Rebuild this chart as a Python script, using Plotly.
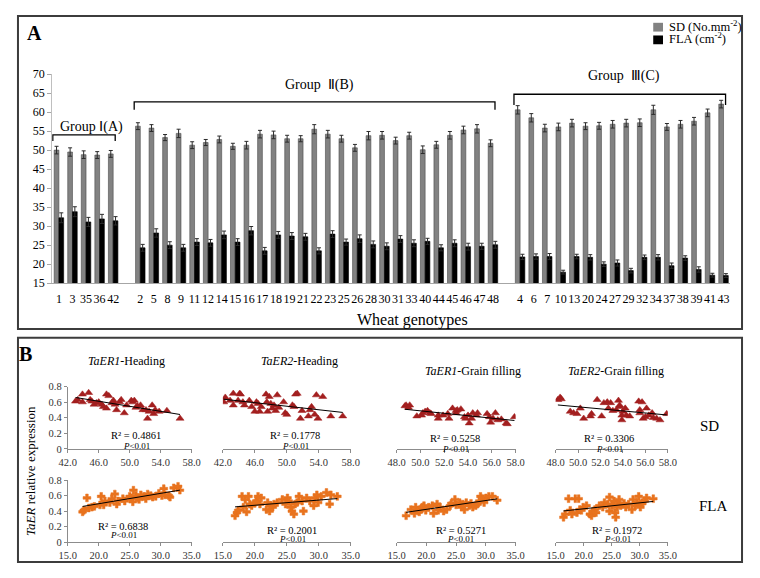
import numpy as np
import plotly.graph_objects as go

SERIF = "'Liberation Serif', 'Times New Roman', serif"
# page body keeps its default 8px margin, so the figure is 16px smaller than the window
PAGE_W, PAGE_H, PAD = 760, 578, 8
W, H = PAGE_W - 2 * PAD, PAGE_H - 2 * PAD

# ---------------- Panel A data ----------------
group1_ids = ["1", "3", "35", "36", "42"]
group2_ids = ["2", "5", "8", "9", "11", "12", "14", "15", "16", "17", "18", "19", "21", "22",
              "23", "25", "26", "28", "30", "31", "33", "40", "44", "45", "46", "47", "48"]
group3_ids = ["4", "6", "7", "10", "13", "20", "24", "27", "29", "32", "34", "37", "38",
              "39", "41", "43"]

sd_g1 = [50.0, 49.5, 48.8, 48.7, 49.0]
sd_g2 = [56.3, 55.8, 53.3, 54.4, 51.3, 52.0, 52.8, 51.0, 51.3, 54.2, 54.0, 53.0, 53.0, 55.5,
         54.2, 53.0, 50.6, 53.8, 53.9, 52.5, 53.8, 50.1, 51.4, 53.9, 55.3, 55.6, 51.8]
sd_g3 = [60.6, 58.5, 55.8, 56.1, 57.1, 56.3, 56.4, 56.8, 57.1, 57.2, 60.6, 56.1, 56.8,
         57.6, 59.8, 62.1]

fla_g1 = [32.2, 33.8, 31.1, 31.9, 31.4]
fla_g2 = [24.3, 28.2, 25.0, 24.3, 25.8, 25.6, 27.7, 25.8, 28.8, 23.5, 27.7, 27.4, 27.2, 23.5,
          27.9, 25.8, 26.7, 25.2, 24.7, 26.6, 25.5, 26.0, 24.3, 25.5, 24.6, 24.7, 25.1]
fla_g3 = [21.9, 22.0, 22.0, 17.9, 22.0, 21.8, 20.0, 20.3, 18.3, 21.8, 21.8, 19.6, 21.6,
          18.6, 17.1, 17.0]

sd_err_g1 = [1.0, 1.1, 1.0, 0.9, 0.9]
sd_err_g2 = [0.9, 0.9, 0.8, 1.1, 0.9, 0.8, 0.9, 0.8, 1.0, 1.0, 1.0, 0.9, 0.8, 1.2, 1.0, 0.9,
             0.9, 1.1, 1.0, 0.9, 0.9, 1.0, 0.9, 1.0, 1.0, 1.1, 0.9]
sd_err_g3 = [1.1, 1.1, 1.0, 1.0, 1.0, 0.9, 0.9, 1.0, 1.0, 1.0, 1.2, 0.9, 1.0, 1.0, 1.0, 1.0]
fla_err_g1 = [1.3, 1.3, 1.2, 1.2, 1.1]
fla_err_g2 = [0.9, 1.1, 0.9, 0.9, 0.9, 0.9, 1.0, 0.9, 1.1, 0.9, 0.9, 0.9, 0.9, 0.8, 0.9, 0.8,
              1.0, 0.9, 0.9, 0.9, 0.9, 0.8, 0.8, 0.9, 0.9, 0.8, 0.9]
fla_err_g3 = [0.7, 0.7, 0.8, 0.5, 0.6, 0.7, 0.6, 0.8, 0.6, 0.6, 0.7, 0.7, 0.6, 0.7, 0.5, 0.5]

group_names = ["Group Ⅰ(A)", "Group  Ⅱ(B)", "Group  Ⅲ(C)"]

# ---------------- Panel B data ----------------
# SD vs expression (heading / grain filling)
er1_head_sd = [43.0, 43.3, 43.9, 43.9, 44.7, 44.9, 45.1, 45.4, 45.7, 46.0, 46.4, 46.6, 47.0, 47.3,
               47.0, 47.7, 47.9, 48.1, 48.3, 48.7, 48.9, 49.3, 49.6, 50.2, 50.4, 50.6, 50.8, 51.0,
               51.4, 51.7, 52.1, 52.3, 52.5, 52.9, 53.1, 53.3, 53.8, 54.8, 56.5]
er1_head_y = [0.61, 0.63, 0.70, 0.60, 0.72, 0.63, 0.61, 0.57, 0.59, 0.60, 0.57, 0.54, 0.70, 0.68,
              0.52, 0.59, 0.62, 0.57, 0.50, 0.60, 0.63, 0.46, 0.56, 0.62, 0.60, 0.62, 0.53, 0.55,
              0.56, 0.50, 0.50, 0.39, 0.48, 0.56, 0.45, 0.50, 0.48, 0.49, 0.39]

er2_head_sd = [42.1, 42.3, 42.9, 43.3, 43.3, 43.9, 44.1, 44.2, 44.5, 44.7, 45.3, 45.6, 46.0, 46.2,
               46.4, 46.6, 46.8, 47.4, 47.5, 47.6, 47.8, 48.0, 48.2, 48.4, 48.6, 48.8, 49.0, 49.6,
               49.8, 50.0, 50.7, 50.9, 51.1, 51.3, 51.7, 51.9, 52.7, 52.9, 53.1, 53.5, 53.7, 53.9,
               54.5, 55.5, 57.0]
er2_head_y = [0.60, 0.66, 0.62, 0.71, 0.56, 0.62, 0.71, 0.70, 0.60, 0.56, 0.62, 0.54, 0.48, 0.60,
              0.58, 0.48, 0.54, 0.70, 0.60, 0.48, 0.67, 0.58, 0.52, 0.56, 0.49, 0.69, 0.53, 0.60,
              0.46, 0.44, 0.56, 0.54, 0.70, 0.71, 0.39, 0.49, 0.42, 0.50, 0.54, 0.44, 0.69, 0.39,
              0.67, 0.42, 0.42]

er1_grain_sd = [48.7, 48.8, 49.1, 49.0, 49.7, 50.1, 50.2, 50.4, 50.6, 50.8, 50.9, 51.5, 51.5, 51.9,
                52.3, 52.4, 52.7, 53.0, 53.0, 53.1, 53.4, 53.7, 53.8, 54.0, 54.1, 54.3, 54.4, 54.7,
                54.8, 55.6, 55.8, 55.9, 56.1, 56.3, 56.5, 56.8, 57.2, 57.3, 57.9]
er1_grain_y = [0.55, 0.56, 0.56, 0.53, 0.42, 0.43, 0.46, 0.48, 0.49, 0.46, 0.45, 0.39, 0.43, 0.43,
               0.45, 0.39, 0.52, 0.49, 0.46, 0.50, 0.51, 0.41, 0.39, 0.43, 0.33, 0.39, 0.46, 0.43,
               0.46, 0.45, 0.41, 0.34, 0.39, 0.46, 0.37, 0.38, 0.33, 0.32, 0.41]

er2_grain_sd = [48.2, 48.4, 48.5, 49.3, 49.6, 49.9, 50.2, 50.5, 51.1, 51.2, 51.7, 52.1, 52.3, 52.6,
                52.7, 52.9, 53.1, 53.4, 53.6, 53.7, 53.7, 53.9, 53.9, 54.0, 54.2, 54.3, 54.6, 55.4,
                55.5, 55.5, 55.7, 55.8, 56.0, 56.1, 56.3, 56.6, 56.7, 57.0, 57.3, 57.9]
er2_grain_y = [0.63, 0.66, 0.64, 0.48, 0.46, 0.45, 0.52, 0.39, 0.42, 0.45, 0.63, 0.42, 0.59, 0.60,
               0.52, 0.59, 0.49, 0.50, 0.62, 0.56, 0.54, 0.37, 0.43, 0.48, 0.52, 0.43, 0.42, 0.61,
               0.50, 0.46, 0.60, 0.39, 0.41, 0.52, 0.43, 0.46, 0.40, 0.39, 0.37, 0.45]

# FLA vs expression
er1_head_fla = [17.4, 17.6, 18.1, 18.4, 18.9, 19.3, 20.4, 20.2, 20.8, 21.0, 21.8, 22.1, 22.6, 22.9,
                23.1, 23.9, 24.2, 25.0, 25.2, 25.5, 25.6, 26.0, 26.3, 26.5, 26.8, 27.3, 27.6, 27.9,
                28.4, 28.7, 29.2, 29.7, 30.2, 30.5, 30.7, 31.3, 31.5, 32.1, 32.8, 33.1]
er1_head_fla_y = [0.39, 0.41, 0.57, 0.44, 0.45, 0.46, 0.59, 0.48, 0.48, 0.53, 0.51, 0.56, 0.62,
                  0.49, 0.53, 0.56, 0.53, 0.59, 0.57, 0.52, 0.67, 0.60, 0.57, 0.55, 0.61, 0.59,
                  0.56, 0.62, 0.60, 0.58, 0.59, 0.63, 0.60, 0.69, 0.61, 0.60, 0.58, 0.70, 0.72,
                  0.67]

er2_head_fla = [16.9, 17.2, 17.4, 18.0, 18.2, 18.5, 18.7, 19.0, 19.2, 19.5, 20.0, 20.2, 20.5, 20.8,
                21.0, 21.8, 22.0, 22.3, 22.5, 22.8, 23.0, 23.5, 24.3, 24.8, 25.1, 25.3, 25.6, 25.8,
                26.1, 26.3, 26.6, 26.9, 27.4, 27.6, 28.1, 28.6, 29.2, 29.4, 29.7, 29.9, 30.4, 31.2,
                31.7, 31.9, 32.9]
er2_head_fla_y = [0.34, 0.38, 0.41, 0.59, 0.45, 0.55, 0.39, 0.59, 0.49, 0.47, 0.50, 0.53, 0.59,
                  0.49, 0.57, 0.42, 0.51, 0.40, 0.47, 0.45, 0.49, 0.51, 0.55, 0.49, 0.57, 0.53,
                  0.45, 0.40, 0.36, 0.49, 0.51, 0.59, 0.53, 0.40, 0.57, 0.53, 0.47, 0.57, 0.61,
                  0.51, 0.59, 0.64, 0.49, 0.61, 0.59]

er1_grain_fla = [16.6, 17.4, 18.0, 18.2, 18.8, 19.0, 19.3, 19.6, 19.9, 20.4, 21.0, 21.2, 21.8, 22.0,
                 22.3, 22.9, 23.4, 24.0, 24.2, 24.8, 25.0, 25.6, 25.9, 26.1, 26.4, 26.7, 27.2, 27.5,
                 27.8, 28.3, 28.6, 28.9, 29.1, 29.4, 29.7, 30.0, 30.5, 31.1, 31.9]
er1_grain_fla_y = [0.34, 0.42, 0.37, 0.45, 0.39, 0.42, 0.45, 0.47, 0.41, 0.45, 0.47, 0.37, 0.49,
                   0.41, 0.45, 0.40, 0.42, 0.47, 0.50, 0.55, 0.48, 0.51, 0.45, 0.49, 0.42, 0.51,
                   0.47, 0.50, 0.45, 0.47, 0.49, 0.53, 0.59, 0.56, 0.51, 0.57, 0.59, 0.59, 0.54]

er2_grain_fla = [16.4, 16.7, 17.3, 17.6, 17.9, 18.5, 18.8, 19.1, 19.3, 19.6, 19.9, 20.5, 21.1, 21.4,
                 21.7, 22.0, 22.2, 22.8, 23.4, 23.7, 24.3, 24.6, 24.6, 25.1, 25.4, 25.6, 25.7, 26.0,
                 26.3, 26.3, 26.6, 27.2, 27.5, 28.0, 28.6, 28.8, 29.2, 29.5, 29.8, 30.1, 30.1, 30.4,
                 30.9, 31.2, 32.4]
er2_grain_fla_y = [0.32, 0.36, 0.56, 0.41, 0.36, 0.56, 0.38, 0.56, 0.42, 0.41, 0.45, 0.47, 0.36,
                   0.34, 0.40, 0.42, 0.38, 0.47, 0.45, 0.51, 0.49, 0.58, 0.40, 0.47, 0.53, 0.38,
                   0.32, 0.45, 0.50, 0.55, 0.47, 0.50, 0.45, 0.49, 0.42, 0.55, 0.47, 0.51, 0.59,
                   0.49, 0.45, 0.51, 0.53, 0.57, 0.56]

subplot_titles = ["<i>TaER1</i>-Heading", "<i>TaER2</i>-Heading",
                  "<i>TaER1</i>-Grain filling", "<i>TaER2</i>-Grain filling"]
r2_sd = ["0.4861", "0.1778", "0.5258", "0.3306"]
r2_fla = ["0.6838", "0.2001", "0.5271", "0.1972"]


# window pixel -> paper fraction
def px(x):
    return min(max((x - PAD) / W, 0.0), 1.0)


def py(y):
    return min(max(1 - (y - PAD) / H, 0.0), 1.0)


fig = go.Figure()

# ---------------- Panel A ----------------
ids = group1_ids + group2_ids + group3_ids
pos = list(range(len(group1_ids)))
pos += [len(group1_ids) + 1 + i for i in range(len(group2_ids))]
start3 = pos[-1] + 2
pos += [start3 + i for i in range(len(group3_ids))]

sd_all = sd_g1 + sd_g2 + sd_g3
fla_all = fla_g1 + fla_g2 + fla_g3
sd_err = sd_err_g1 + sd_err_g2 + sd_err_g3
fla_err = fla_err_g1 + fla_err_g2 + fla_err_g3

fig.add_trace(go.Bar(
    x=pos, y=sd_all, name="SD",
    marker=dict(color="#828282", line=dict(color="#4a4a4a", width=0.6)),
    error_y=dict(type="data", array=sd_err, color="#2b2b2b", thickness=1, width=2),
    showlegend=False, xaxis="x", yaxis="y"))
fig.add_trace(go.Bar(
    x=pos, y=fla_all, name="FLA",
    marker=dict(color="black", line=dict(color="black", width=0.6)),
    error_y=dict(type="data", array=fla_err, color="#2b2b2b", thickness=1, width=2),
    showlegend=False, xaxis="x", yaxis="y"))

# ---------------- Panel B ----------------
col_dom = [(60, 187), (219, 350), (397, 519), (560, 675)]
row_dom = [(389, 453), (485, 548.5)]
sd_sets = [(er1_head_sd, er1_head_y), (er2_head_sd, er2_head_y),
           (er1_grain_sd, er1_grain_y), (er2_grain_sd, er2_grain_y)]
fla_sets = [(er1_head_fla, er1_head_fla_y), (er2_head_fla, er2_head_fla_y),
            (er1_grain_fla, er1_grain_fla_y), (er2_grain_fla, er2_grain_fla_y)]
sd_ranges = [[42, 58], [42, 58], [48, 58], [48, 58]]
sd_dtick = [4, 4, 2, 2]

layout_axes = {}
shapes = []
annotations = []
for r, (sets, color, symbol, size) in enumerate([
        (sd_sets, "#a31f1f", "triangle-up", 7),
        (fla_sets, "#e8731e", "cross", 6.5)]):
    for c, (xs, ys) in enumerate(sets):
        n = 2 + r * 4 + c
        xa, ya = f"x{n}", f"y{n}"
        fig.add_trace(go.Scatter(
            x=xs, y=ys, mode="markers", xaxis=xa, yaxis=ya, showlegend=False,
            marker=dict(symbol=symbol, size=size, color=color,
                        line=dict(color=color, width=0.5))))
        k, b = np.polyfit(xs, ys, 1)
        xl = np.array([min(xs), max(xs)])
        fig.add_trace(go.Scatter(
            x=xl, y=k * xl + b, mode="lines", xaxis=xa, yaxis=ya, showlegend=False,
            line=dict(color="black", width=1)))
        rng = sd_ranges[c] if r == 0 else [15, 35]
        dt = sd_dtick[c] if r == 0 else 5
        layout_axes[f"xaxis{n}"] = dict(
            domain=[px(col_dom[c][0]), px(col_dom[c][1])], anchor=ya, range=rng,
            dtick=dt, tick0=rng[0], tickformat=".1f", showgrid=False, zeroline=False,
            showline=True, linecolor="#8c8c8c", linewidth=1, ticks="outside",
            ticklen=3, tickcolor="#8c8c8c",
            tickfont=dict(family=SERIF, size=10.5, color="#333"))
        layout_axes[f"yaxis{n}"] = dict(
            domain=[py(row_dom[r][1]), py(row_dom[r][0])], anchor=xa, range=[0, 0.8],
            dtick=0.2, showgrid=False, zeroline=False, visible=(c == 0),
            showline=True, linecolor="#8c8c8c", linewidth=1, ticks="outside",
            ticklen=3, tickcolor="#8c8c8c",
            tickfont=dict(family=SERIF, size=10.5, color="#333"))


# ---------------- annotations ----------------
def txt(x, y, text, size=12, xanchor="center", **kw):
    annotations.append(dict(x=px(x), y=py(y), xref="paper", yref="paper", text=text,
                            xanchor=xanchor, yanchor="middle", showarrow=False,
                            font=dict(family=SERIF, size=size, color="black"), **kw))


txt(26, 26, "<b>A</b>", 20)
txt(17, 356, "<b>B</b>", 20)
txt(413, 321, "Wheat genotypes", 16)

# group brackets (data coordinates of panel A)
group_pos = [pos[:len(group1_ids)],
             pos[len(group1_ids):len(group1_ids) + len(group2_ids)],
             pos[len(group1_ids) + len(group2_ids):]]
bracket_top = [54.0, 62.7, 64.7]
bracket_drop = [1.6, 2.1, 2.8]
label_y = [56.1, 67.0, 69.4]
label_x = [84, 318, 630]
for g, gp in enumerate(group_pos):
    x0, x1 = gp[0] - 0.45, gp[-1] + 0.15
    t, d = bracket_top[g], bracket_drop[g]
    shapes.append(dict(type="path", xref="x", yref="y",
                       path=f"M{x0},{t - d} L{x0},{t} L{x1},{t} L{x1},{t - d}",
                       line=dict(color="black", width=1.3)))
    annotations.append(dict(x=px(label_x[g]), y=label_y[g], xref="paper", yref="y",
                            text=group_names[g], showarrow=False,
                            xanchor="center", yanchor="middle",
                            font=dict(family=SERIF, size=14, color="black")))

# legend (manual)
shapes.append(dict(type="rect", xref="paper", yref="paper", x0=px(660), x1=px(670),
                   y0=py(25), y1=py(16), fillcolor="#828282", line=dict(color="#828282", width=0)))
shapes.append(dict(type="rect", xref="paper", yref="paper", x0=px(660), x1=px(670),
                   y0=py(38), y1=py(29), fillcolor="black", line=dict(color="black", width=0)))
txt(674, 19, "SD (No.mm<sup>-2</sup>)", 12.5, xanchor="left")
txt(674, 32, "FLA (cm<sup>-2</sup>)", 12.5, xanchor="left")

# panel B texts
title_x = [120, 298, 475, 622]
title_y = [363, 363, 373, 373]
r2_x = [130, 293, 457, 615]
r2_sd_y = [439, 439, 442, 442]
r2_fla_x = [117, 290, 463, 623]
r2_fla_y = [533, 537, 537, 537]
for c in range(4):
    txt(title_x[c], title_y[c], subplot_titles[c], 12)
    txt(r2_x[c], r2_sd_y[c], "R² = " + r2_sd[c], 10.5)
    txt(r2_x[c], r2_sd_y[c] + 11, "<i>P</i>&lt;0.01", 9)
    txt(r2_fla_x[c], r2_fla_y[c], "R² = " + r2_fla[c], 10.5)
    txt(r2_fla_x[c], r2_fla_y[c] + 8.5, "<i>P</i>&lt;0.01", 9)
txt(718, 429, "SD", 15)
txt(722, 512, "FLA", 15)
txt(22, 476, "<i>TaER</i> relative expression", 13, textangle=-90)

# panel borders
shapes.append(dict(type="rect", xref="paper", yref="paper", x0=px(9), x1=px(751),
                   y0=py(330), y1=py(9), line=dict(color="#3c3c3c", width=2)))
shapes.append(dict(type="rect", xref="paper", yref="paper", x0=px(9), x1=px(751),
                   y0=py(569), y1=py(339), line=dict(color="#3c3c3c", width=2)))

fig.update_layout(
    width=W, height=H,
    margin=dict(l=0, r=0, t=0, b=0),
    paper_bgcolor="white", plot_bgcolor="white",
    barmode="group", bargap=0.3, bargroupgap=0,
    showlegend=False,
    xaxis=dict(domain=[px(44), px(739)], anchor="y", range=[-0.5, pos[-1] + 0.5],
               tickmode="array", tickvals=pos, ticktext=ids, ticks="", tickangle=0,
               showline=True, linecolor="#a6a6a6", showgrid=False, zeroline=False,
               ticklabelstandoff=4,
               tickfont=dict(family=SERIF, size=12, color="black")),
    yaxis=dict(domain=[py(283), py(68.6)], anchor="x", range=[15, 70], dtick=5,
               showline=True, linecolor="#bfbfbf", ticks="outside", ticklen=4,
               tickcolor="#a6a6a6", showgrid=False, zeroline=False,
               tickfont=dict(family=SERIF, size=12, color="black")),
    shapes=shapes,
    annotations=annotations,
    **layout_axes,
)

fig.write_html("out.html", config={"displayModeBar": False})
